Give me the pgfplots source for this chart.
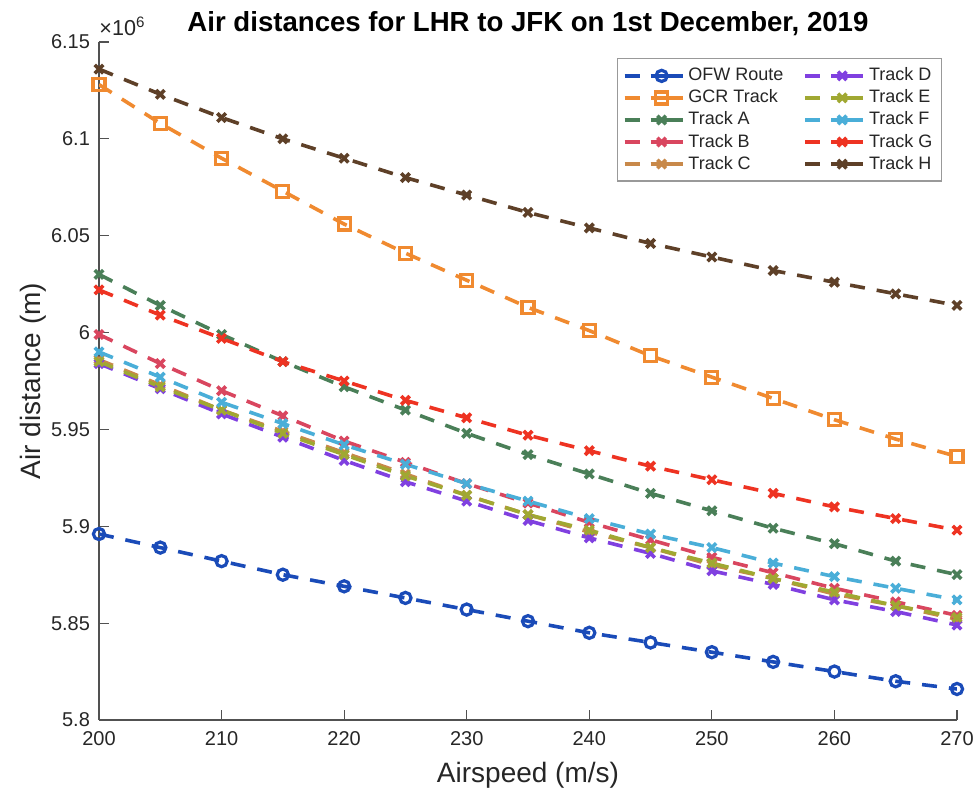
\documentclass[border=0pt]{standalone}
\usepackage{pgfplots}
\pgfplotsset{compat=1.18}
\usepackage{fontspec}
\setmainfont{Liberation Sans}
\definecolor{cOFW}{HTML}{1A4BB8}
\definecolor{cGCR}{HTML}{F08A30}
\definecolor{cA}{HTML}{4A7F58}
\definecolor{cB}{HTML}{D9465F}
\definecolor{cC}{HTML}{C8894A}
\definecolor{cD}{HTML}{8040E0}
\definecolor{cE}{HTML}{A0A832}
\definecolor{cF}{HTML}{4AAED8}
\definecolor{cG}{HTML}{EE3322}
\definecolor{cH}{HTML}{5E4028}
\definecolor{axgray}{HTML}{262626}
\begin{document}
\begin{tikzpicture}
\begin{axis}[
  name=ax,
  scale only axis,
  width=429pt, height=339pt,
  xmin=200, xmax=270, ymin=5800000, ymax=6150000,
  xtick={200,210,...,270},
  ytick={5800000,5850000,5900000,5950000,6000000,6050000,6100000,6150000},
  scaled y ticks=base 10:-6,
  ytick scale label code/.code={×10\textsuperscript{6}},
  every y tick scale label/.style={at={(axis description cs:0,1)}, anchor=south west, inner sep=0pt, yshift=3pt, xshift=1pt, text=axgray, font=\fontsize{10.8}{12}\selectfont},
  /pgf/number format/assume math mode=true,
  axis x line*=bottom, axis y line*=left,
  axis line style={axgray!80, line width=0.6pt},
  tick style={axgray!80, line width=0.6pt},
  tick align=inside,
  major tick length=5pt,
  tick label style={font=\fontsize{10}{12}\selectfont, text=axgray},
  xticklabel style={yshift=-2pt},
  yticklabel style={xshift=-1pt},
  xlabel={Airspeed (m/s)},
  xlabel style={font=\fontsize{14}{16}\selectfont, text=axgray, at={(axis description cs:0.5,0)}, anchor=north, yshift=-21pt, inner sep=0pt},
  ylabel={Air distance (m)},
  ylabel style={font=\fontsize{14}{16}\selectfont, text=axgray, at={(axis description cs:-0.092,0.5)}, anchor=north, rotate=0, inner sep=0pt},
  every axis plot/.append style={line width=1.8pt, dash pattern=on 7.5pt off 6pt},
  legend columns=5,
  transpose legend,
  legend style={at={(0.9825,0.976)}, anchor=north east, draw=gray!80, line width=0.6pt,
    font=\fontsize{9}{11}\selectfont, text=axgray, inner sep=2.5pt,
    /tikz/every even column/.append style={column sep=8pt},
    row sep=-1pt},
  legend cell align=left,
  legend image code/.code={
    \draw[#1] (0pt,0pt) -- (8.5pt,0pt);
    \draw[#1, solid] (13pt,0pt) -- (29pt,0pt);
    \draw[#1, solid] plot coordinates {(18.5pt,0pt)};
  },
]
\addplot[color=cOFW, mark=o, mark size=2.8pt, mark options={solid, line width=1.6pt}] coordinates {
(200,5896000)(205,5889000)(210,5882000)(215,5875000)(220,5869000)(225,5863000)(230,5857000)(235,5851000)(240,5845000)(245,5840000)(250,5835000)(255,5830000)(260,5825000)(265,5820000)(270,5816000)};
\addlegendentry{OFW Route}
\addplot[color=cGCR, mark=square, mark size=3pt, mark options={solid, line width=1.6pt}] coordinates {
(200,6128000)(205,6108000)(210,6090000)(215,6073000)(220,6056000)(225,6041000)(230,6027000)(235,6013000)(240,6001000)(245,5988000)(250,5977000)(255,5966000)(260,5955000)(265,5945000)(270,5936000)};
\addlegendentry{GCR Track}
\addplot[color=cA, mark=x, mark size=3pt, mark options={solid}] coordinates {
(200,6030000)(205,6014000)(210,5999000)(215,5985000)(220,5972000)(225,5960000)(230,5948000)(235,5937000)(240,5927000)(245,5917000)(250,5908000)(255,5899000)(260,5891000)(265,5882000)(270,5875000)};
\addlegendentry{Track A}
\addplot[color=cB, mark=x, mark size=3pt, mark options={solid}] coordinates {
(200,5999000)(205,5984000)(210,5970000)(215,5957000)(220,5944000)(225,5933000)(230,5922000)(235,5912000)(240,5902000)(245,5893000)(250,5884000)(255,5876000)(260,5868000)(265,5861000)(270,5854000)};
\addlegendentry{Track B}
\addplot[color=cC, mark=x, mark size=3pt, mark options={solid}] coordinates {
(200,5986000)(205,5973000)(210,5960000)(215,5949000)(220,5938000)(225,5927000)(230,5916000)(235,5906000)(240,5897000)(245,5889000)(250,5880000)(255,5873000)(260,5865000)(265,5859000)(270,5852000)};
\addlegendentry{Track C}
\addplot[color=cD, mark=x, mark size=3pt, mark options={solid}] coordinates {
(200,5984000)(205,5971000)(210,5958000)(215,5946000)(220,5934000)(225,5923000)(230,5913000)(235,5903000)(240,5894000)(245,5886000)(250,5877000)(255,5870000)(260,5862000)(265,5856000)(270,5849000)};
\addlegendentry{Track D}
\addplot[color=cE, mark=x, mark size=3pt, mark options={solid}] coordinates {
(200,5985000)(205,5972000)(210,5960000)(215,5948000)(220,5937000)(225,5926000)(230,5916000)(235,5906000)(240,5898000)(245,5889000)(250,5881000)(255,5873000)(260,5866000)(265,5859000)(270,5853000)};
\addlegendentry{Track E}
\addplot[color=cF, mark=x, mark size=3pt, mark options={solid}] coordinates {
(200,5990000)(205,5977000)(210,5964000)(215,5953000)(220,5942000)(225,5932000)(230,5922000)(235,5913000)(240,5904000)(245,5896000)(250,5889000)(255,5881000)(260,5874000)(265,5868000)(270,5862000)};
\addlegendentry{Track F}
\addplot[color=cG, mark=x, mark size=3pt, mark options={solid}] coordinates {
(200,6022000)(205,6009000)(210,5997000)(215,5985000)(220,5975000)(225,5965000)(230,5956000)(235,5947000)(240,5939000)(245,5931000)(250,5924000)(255,5917000)(260,5910000)(265,5904000)(270,5898000)};
\addlegendentry{Track G}
\addplot[color=cH, mark=x, mark size=3pt, mark options={solid}] coordinates {
(200,6136000)(205,6123000)(210,6111000)(215,6100000)(220,6090000)(225,6080000)(230,6071000)(235,6062000)(240,6054000)(245,6046000)(250,6039000)(255,6032000)(260,6026000)(265,6020000)(270,6014000)};
\addlegendentry{Track H}
\end{axis}
\node[anchor=base, inner sep=0pt, font=\fontsize{13.8}{16}\selectfont\bfseries] at ([yshift=5pt]ax.north) {Air distances for LHR to JFK on 1st December, 2019};
\pgfresetboundingbox
\path[use as bounding box] (-49.5pt,-35pt) rectangle (438.5pt,360pt);
\end{tikzpicture}
\end{document}
